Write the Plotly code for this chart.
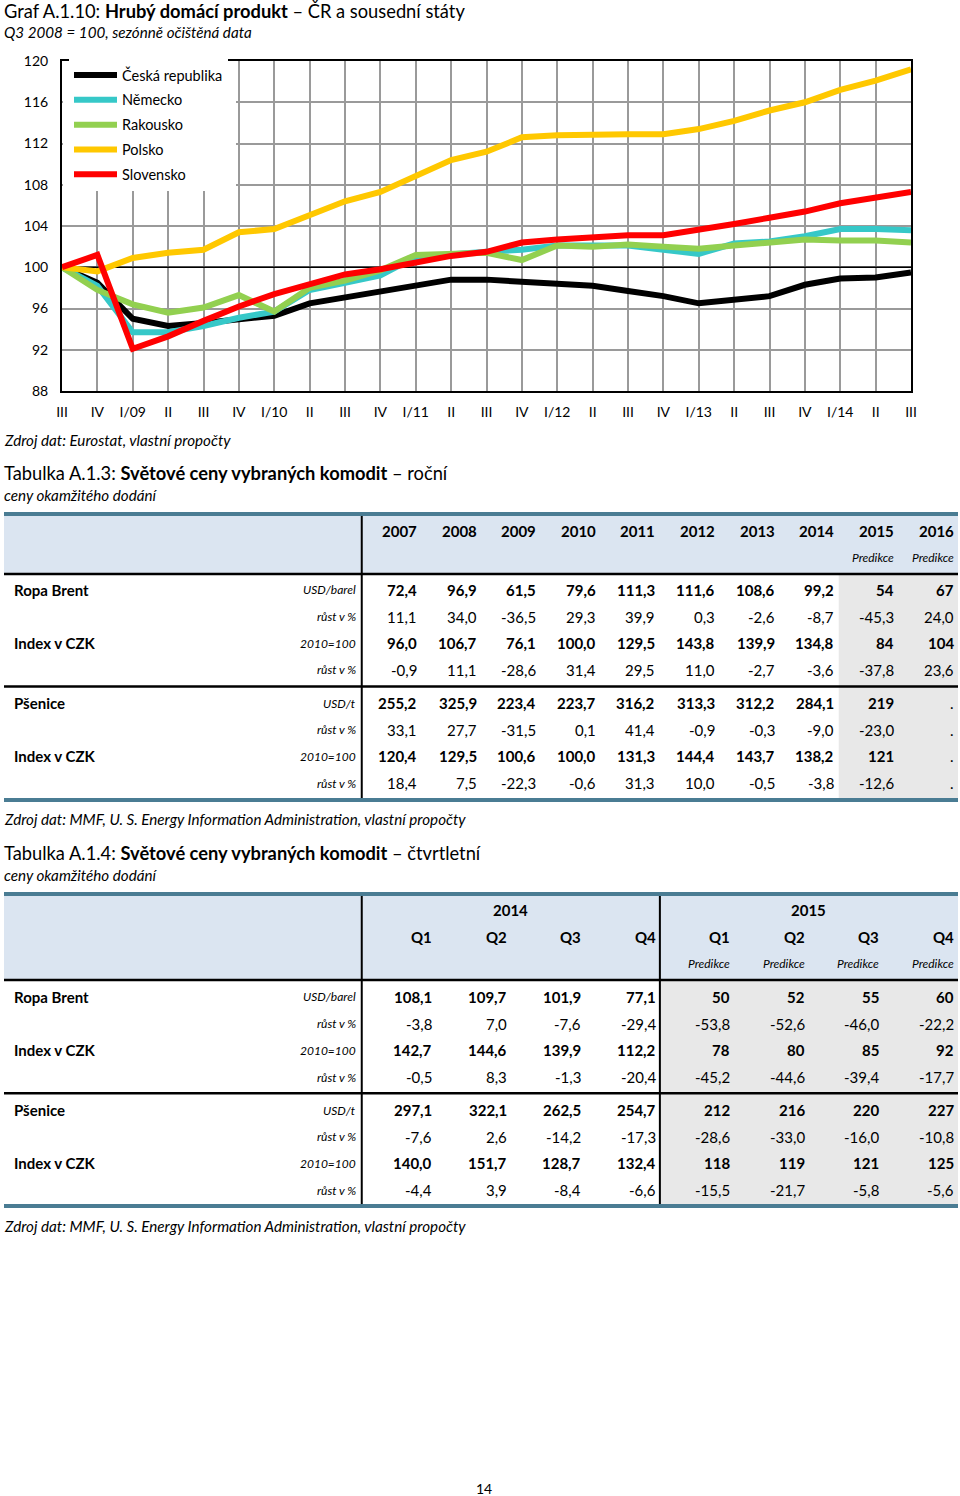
import plotly.graph_objects as go

W, H = 960, 1496
FONT = "Lato"

# ---------------- chart data ----------------
quarters = ["III", "IV", "I/09", "II", "III", "IV", "I/10", "II", "III", "IV",
            "I/11", "II", "III", "IV", "I/12", "II", "III", "IV", "I/13", "II",
            "III", "IV", "I/14", "II", "III"]
cz = [100, 98.5, 95.0, 94.3, 94.6, 94.9, 95.3, 96.5, 97.1, 97.7, 98.3, 98.8, 98.8,
      98.6, 98.5, 98.2, 97.7, 97.2, 96.5, 96.9, 97.2, 98.3, 98.9, 99.0, 99.5]
de = [100, 98.2, 93.7, 93.7, 94.3, 95.1, 95.7, 97.8, 98.5, 99.2, 101.0, 101.3, 101.5,
      101.7, 102.1, 102.1, 102.1, 101.7, 101.3, 102.3, 102.5, 103.0, 103.7, 103.7, 103.6]
at = [100, 97.8, 96.4, 95.6, 96.1, 97.3, 95.7, 98.0, 98.7, 99.7, 101.2, 101.3, 101.4,
      100.7, 102.1, 102.0, 102.2, 102.0, 101.8, 102.1, 102.4, 102.7, 102.6, 102.6, 102.4]
pl = [100, 99.6, 100.9, 101.4, 101.7, 103.4, 103.7, 105.0, 106.4, 107.3, 108.9, 110.4, 111.2,
      112.6, 112.8, 112.9, 112.9, 112.9, 113.4, 114.2, 115.2, 116.0, 117.2, 118.1, 119.2]
sk = [100, 101.2, 92.1, 93.3, 94.8, 96.2, 97.4, 98.3, 99.3, 99.8, 100.4, 101.1, 101.5,
      102.4, 102.7, 102.9, 103.1, 103.1, 103.6, 104.2, 104.8, 105.4, 106.2, 106.7, 107.3]
BASE = 100

# ---------------- table A.1.3 data ----------------
years = ["2007", "2008", "2009", "2010", "2011", "2012", "2013", "2014", "2015", "2016"]
year_forecast = [False] * 8 + [True, True]
brent_usd = [72.4, 96.9, 61.5, 79.6, 111.3, 111.6, 108.6, 99.2, 54, 67]
brent_growth = [11.1, 34.0, -36.5, 29.3, 39.9, 0.3, -2.6, -8.7, -45.3, 24.0]
brent_idx = [96.0, 106.7, 76.1, 100.0, 129.5, 143.8, 139.9, 134.8, 84, 104]
brent_idx_growth = [-0.9, 11.1, -28.6, 31.4, 29.5, 11.0, -2.7, -3.6, -37.8, 23.6]
wheat_usd = [255.2, 325.9, 223.4, 223.7, 316.2, 313.3, 312.2, 284.1, 219, None]
wheat_growth = [33.1, 27.7, -31.5, 0.1, 41.4, -0.9, -0.3, -9.0, -23.0, None]
wheat_idx = [120.4, 129.5, 100.6, 100.0, 131.3, 144.4, 143.7, 138.2, 121, None]
wheat_idx_growth = [18.4, 7.5, -22.3, -0.6, 31.3, 10.0, -0.5, -3.8, -12.6, None]

# ---------------- table A.1.4 data ----------------
q_years = ["2014", "2015"]
q_labels = ["Q1", "Q2", "Q3", "Q4", "Q1", "Q2", "Q3", "Q4"]
q_forecast = [False] * 4 + [True] * 4
q_brent_usd = [108.1, 109.7, 101.9, 77.1, 50, 52, 55, 60]
q_brent_growth = [-3.8, 7.0, -7.6, -29.4, -53.8, -52.6, -46.0, -22.2]
q_brent_idx = [142.7, 144.6, 139.9, 112.2, 78, 80, 85, 92]
q_brent_idx_growth = [-0.5, 8.3, -1.3, -20.4, -45.2, -44.6, -39.4, -17.7]
q_wheat_usd = [297.1, 322.1, 262.5, 254.7, 212, 216, 220, 227]
q_wheat_growth = [-7.6, 2.6, -14.2, -17.3, -28.6, -33.0, -16.0, -10.8]
q_wheat_idx = [140.0, 151.7, 128.7, 132.4, 118, 119, 121, 125]
q_wheat_idx_growth = [-4.4, 3.9, -8.4, -6.6, -15.5, -21.7, -5.8, -5.6]

row_labels = ["Ropa Brent", "", "Index v CZK", "", "Pšenice", "", "Index v CZK", ""]
row_units = ["USD/barel", "růst v %", "2010=100", "růst v %", "USD/t", "růst v %", "2010=100", "růst v %"]
row_bold = [True, False, True, False, True, False, True, False]


def px(x):
    return x / W


def py(y):
    return 1 - y / H


def fmt(v):
    if v is None:
        return "."
    if isinstance(v, int):
        return str(v)
    return f"{v:.1f}".replace(".", ",")


fig = go.Figure()

# ---------------- chart ----------------
xidx = list(range(len(quarters)))
fig.add_trace(go.Scatter(x=[xidx[0], xidx[-1]], y=[BASE, BASE], mode="lines",
                         line=dict(color="black", width=1.6), showlegend=False,
                         hoverinfo="skip"))
series = [("Česká republika", cz, "#000000"), ("Německo", de, "#36C8C8"),
          ("Rakousko", at, "#92D050"), ("Polsko", pl, "#FFC800"),
          ("Slovensko", sk, "#FF0000")]
for name, vals, col in series:
    fig.add_trace(go.Scatter(x=xidx, y=vals, name=name, mode="lines",
                             line=dict(color=col, width=6), legendgroup=name,
                             hoverinfo="skip"))

annotations = []
shapes = []


def note(text, x, y, size, xanchor="left", xref="paper", yref="paper", yanchor="middle"):
    annotations.append(dict(text=text, x=x, y=y, xref=xref, yref=yref, showarrow=False,
                            xanchor=xanchor, yanchor=yanchor,
                            font=dict(family=FONT, size=size, color="black")))


# white legend box (covers grid like the original)
shapes.append(dict(type="rect", xref="paper", yref="paper", x0=px(63), x1=px(236),
                   y0=py(188), y1=py(62), fillcolor="white", line=dict(width=0),
                   layer="above"))

TITLE = 18.3
ITAL = 15.2
# titles
note("Graf A.1.10: <b>Hrubý domácí produkt</b> – ČR a sousední státy", px(2), py(11), TITLE)
note("<i>Q3 2008 = 100, sezónně očištěná data</i>", px(2), py(32), ITAL)
note("<i>Zdroj dat: Eurostat, vlastní propočty</i>", px(2), py(440), ITAL)
note("Tabulka A.1.3: <b>Světové ceny vybraných komodit</b> – roční", px(2), py(473), TITLE)
note("<i>ceny okamžitého dodání</i>", px(2), py(495), ITAL)
note("<i>Zdroj dat: MMF, U. S. Energy Information Administration, vlastní propočty</i>",
     px(2), py(819), ITAL)
note("Tabulka A.1.4: <b>Světové ceny vybraných komodit</b> – čtvrtletní", px(2), py(853), TITLE)
note("<i>ceny okamžitého dodání</i>", px(2), py(875), ITAL)
note("<i>Zdroj dat: MMF, U. S. Energy Information Administration, vlastní propočty</i>",
     px(2), py(1226), ITAL)
note("14", px(484), py(1488), 14, xanchor="center")

BAR = "#4A7C93"
HEAD = "#DBE5F1"
GREY = "#E8E8E8"


def rect(xr, yr, x0, x1, y0, y1, color):
    shapes.append(dict(type="rect", xref=xr, yref=yr, x0=x0, x1=x1, y0=y0, y1=y1,
                       fillcolor=color, line=dict(width=0), layer="below"))


def hline(xr, yr, x0, x1, y, w=2.5):
    shapes.append(dict(type="line", xref=xr, yref=yr, x0=x0, x1=x1, y0=y, y1=y,
                       line=dict(color="black", width=w)))


def vline(xr, yr, x, y0, y1, w=2):
    shapes.append(dict(type="line", xref=xr, yref=yr, x0=x, x1=x, y0=y0, y1=y1,
                       line=dict(color="black", width=w)))


# ---------------- table A.1.3 ----------------
t1_data = [brent_usd, brent_growth, brent_idx, brent_idx_growth,
           wheat_usd, wheat_growth, wheat_idx, wheat_idx_growth]
LAB1 = -6  # label column width in year-column units
ncol1 = len(years)
R1 = 0.96
fig.add_trace(go.Scatter(x=[None], y=[None], xaxis="x2", yaxis="y2", showlegend=False,
                         hoverinfo="skip"))
rect("x2", "y2", LAB1, ncol1, -0.712, -0.562, BAR)
rect("x2", "y2", LAB1, ncol1, -0.562, 1.575, HEAD)
rect("x2", "y2", ncol1 - 2, ncol1, 1.64, 10.01, GREY)
rect("x2", "y2", LAB1, ncol1, 10.01, 10.16, BAR)
hline("x2", "y2", LAB1, ncol1, 1.61)
hline("x2", "y2", LAB1, ncol1, 5.83)
vline("x2", "y2", 0, -0.562, 10.01)

t1_rows_y = [2.21 + k for k in range(4)] + [6.45 + k for k in range(4)]
for i, yr in enumerate(years):
    note(f"<b>{yr}</b>", i + R1, 0, 15, xanchor="right", xref="x2", yref="y2")
    if year_forecast[i]:
        note("<i>Predikce</i>", i + R1, 1.01, 12, xanchor="right", xref="x2", yref="y2")
for r, vals in enumerate(t1_data):
    yv = t1_rows_y[r]
    if row_labels[r]:
        note(f"<b>{row_labels[r]}</b>", LAB1 + 0.14, yv, 15, xref="x2", yref="y2")
    note(f"<i>{row_units[r]}</i>", -0.06, yv, 12, xanchor="right", xref="x2", yref="y2")
    for i, v in enumerate(vals):
        t = fmt(v)
        if row_bold[r] and v is not None:
            t = f"<b>{t}</b>"
        note(t, i + R1, yv, 15, xanchor="right", xref="x2", yref="y2")

# ---------------- table A.1.4 ----------------
t2_data = [q_brent_usd, q_brent_growth, q_brent_idx, q_brent_idx_growth,
           q_wheat_usd, q_wheat_growth, q_wheat_idx, q_wheat_idx_growth]
LAB2 = -4.8
ncol2 = len(q_labels)
R2 = 0.97
fig.add_trace(go.Scatter(x=[None], y=[None], xaxis="x3", yaxis="y3", showlegend=False,
                         hoverinfo="skip"))
rect("x3", "y3", LAB2, ncol2, -0.675, -0.525, BAR)
rect("x3", "y3", LAB2, ncol2, -0.525, 2.59, HEAD)
rect("x3", "y3", 4, ncol2, 2.66, 11.02, GREY)
rect("x3", "y3", LAB2, ncol2, 11.02, 11.17, BAR)
hline("x3", "y3", LAB2, ncol2, 2.625)
hline("x3", "y3", LAB2, ncol2, 6.87)
vline("x3", "y3", 0, -0.525, 11.02)
vline("x3", "y3", 4, -0.525, 11.02)

for g, yr in enumerate(q_years):
    note(f"<b>{yr}</b>", g * 4 + 2, 0, 15, xanchor="center", xref="x3", yref="y3")
for i, q in enumerate(q_labels):
    note(f"<b>{q}</b>", i + R2, 1.01, 15, xanchor="right", xref="x3", yref="y3")
    if q_forecast[i]:
        note("<i>Predikce</i>", i + R2, 2.02, 12, xanchor="right", xref="x3", yref="y3")
t2_rows_y = [3.26 + k for k in range(4)] + [7.5 + k for k in range(4)]
for r, vals in enumerate(t2_data):
    yv = t2_rows_y[r]
    if row_labels[r]:
        note(f"<b>{row_labels[r]}</b>", LAB2 + 0.11, yv, 15, xref="x3", yref="y3")
    note(f"<i>{row_units[r]}</i>", -0.05, yv, 12, xanchor="right", xref="x3", yref="y3")
    for i, v in enumerate(vals):
        t = fmt(v)
        if row_bold[r] and v is not None:
            t = f"<b>{t}</b>"
        note(t, i + R2, yv, 15, xanchor="right", xref="x3", yref="y3")

GRID = "#9A9A9A"
fig.update_layout(
    width=W, height=H, margin=dict(l=0, r=0, t=0, b=0, autoexpand=False),
    paper_bgcolor="white", plot_bgcolor="rgba(0,0,0,0)",
    font=dict(family=FONT, size=14, color="black"),
    xaxis=dict(domain=[px(62), px(911)], range=[0, len(quarters) - 1],
               tickmode="array", tickvals=xidx, ticktext=quarters,
               showgrid=True, gridcolor=GRID, gridwidth=2, zeroline=False,
               showline=True, mirror=True, linecolor="black", linewidth=2,
               ticks="", tickfont=dict(size=14), ticklabelstandoff=7, fixedrange=True,
               automargin=False),
    yaxis=dict(domain=[py(391), py(61)], range=[88, 120], tick0=88, dtick=4,
               showgrid=True, gridcolor=GRID, gridwidth=2, zeroline=False,
               showline=True, mirror=True, linecolor="black", linewidth=2,
               ticks="", tickfont=dict(size=14), ticklabelstandoff=9, fixedrange=True,
               automargin=False),
    xaxis2=dict(domain=[px(4), px(958)], range=[LAB1, ncol1], visible=False,
                anchor="y2", fixedrange=True),
    yaxis2=dict(domain=[py(802), py(512)], range=[10.16, -0.712], visible=False,
                anchor="x2", fixedrange=True),
    xaxis3=dict(domain=[px(4), px(958)], range=[LAB2, ncol2], visible=False,
                anchor="y3", fixedrange=True),
    yaxis3=dict(domain=[py(1208), py(892)], range=[11.17, -0.675], visible=False,
                anchor="x3", fixedrange=True),
    legend=dict(x=px(69), y=py(59), xanchor="left", yanchor="top", bgcolor="white",
                font=dict(family=FONT, size=14.5), tracegroupgap=3, itemwidth=43),
    annotations=annotations,
    shapes=shapes,
    showlegend=True,
)

fig.write_html("out.html", config={"displayModeBar": False},
               post_script="document.body.style.margin='0';document.documentElement.style.overflow='hidden';")
